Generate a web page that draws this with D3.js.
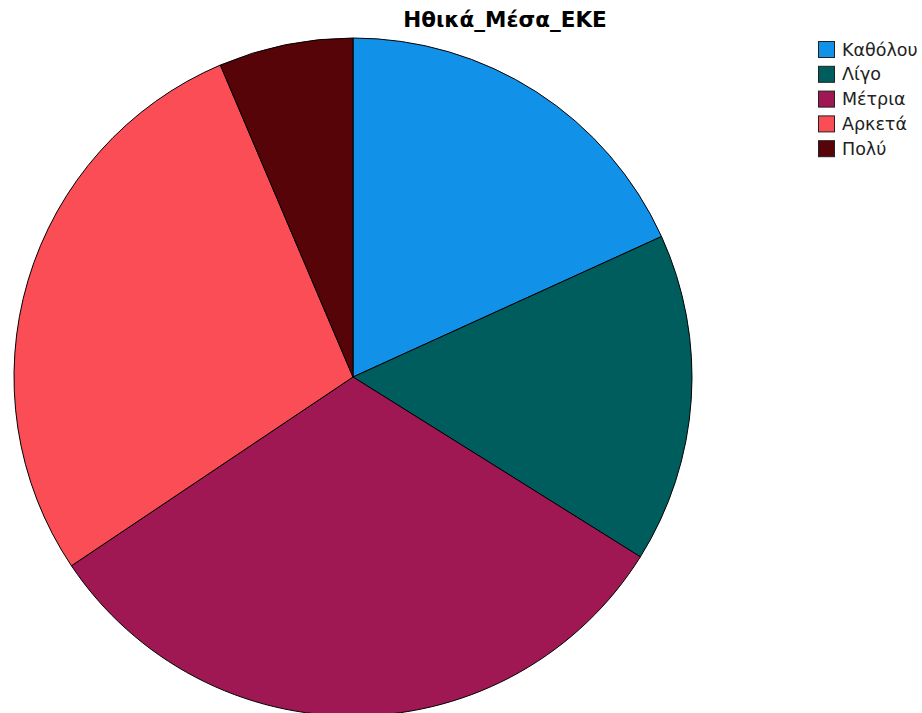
<!DOCTYPE html>
<html>
<head>
<meta charset="utf-8">
<script src="https://cdn.jsdelivr.net/npm/d3@7"></script>
<style>
  html, body { margin: 0; padding: 0; background: #fff; }
  svg { display: block; font-family: "DejaVu Sans", sans-serif; }
</style>
</head>
<body>
<svg id="chart" width="922" height="713"></svg>
<script>
// Response categories and their shares (%)
const categories = ["Καθόλου", "Λίγο", "Μέτρια", "Αρκετά", "Πολύ"];
const values = [18.2, 15.7, 31.7, 28.0, 6.4];
const colors = ["#1192e8", "#005d5d", "#9f1853", "#fa4d56", "#570408"];
const title = "Ηθικά_Μέσα_ΕΚΕ";

const svg = d3.select("#chart");
const cx = 353, cy = 377, r = 339;

const data = categories.map((c, i) => ({ category: c, value: values[i] }));
const color = d3.scaleOrdinal().domain(categories).range(colors);

const pie = d3.pie().value(d => d.value).sort(null);
const arc = d3.arc().innerRadius(0).outerRadius(r);

svg.append("g")
  .attr("transform", `translate(${cx},${cy})`)
  .selectAll("path")
  .data(pie(data))
  .join("path")
  .attr("d", arc)
  .attr("fill", d => color(d.data.category))
  .attr("stroke", "#000")
  .attr("stroke-width", 1)
  .attr("stroke-linejoin", "round");

svg.append("text")
  .attr("x", 505)
  .attr("y", 27)
  .attr("text-anchor", "middle")
  .attr("font-size", 21.5)
  .attr("font-weight", "bold")
  .attr("fill", "#000")
  .text(title);

// Legend
const legend = svg.append("g").attr("transform", "translate(818,41)");
const row = legend.selectAll("g")
  .data(categories)
  .join("g")
  .attr("transform", (d, i) => `translate(0,${i * 24.8})`);

row.append("rect")
  .attr("x", 0.5).attr("y", 0.5)
  .attr("width", 16).attr("height", 16)
  .attr("fill", d => color(d))
  .attr("stroke", "#222")
  .attr("stroke-width", 1);

row.append("text")
  .attr("x", 24)
  .attr("y", 14.5)
  .attr("font-size", 17.5)
  .attr("fill", "#222")
  .text(d => d);
</script>
</body>
</html>
